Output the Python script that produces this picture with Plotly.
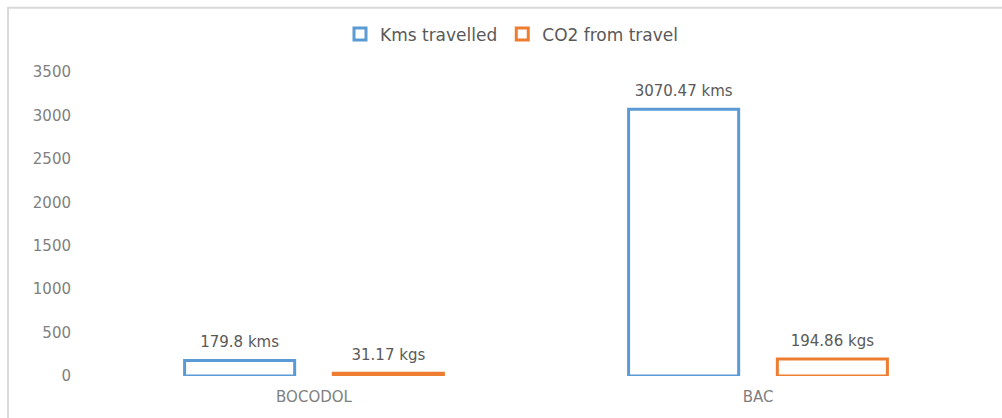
import plotly.graph_objects as go

categories = ["BOCODOL", "BAC"]
kms_values = [179.8, 3070.47]
co2_values = [31.17, 194.86]
kms_labels = ["179.8 kms", "3070.47 kms"]
co2_labels = ["31.17 kgs", "194.86 kgs"]
y_ticks = [0, 500, 1000, 1500, 2000, 2500, 3000, 3500]

BLUE = "#5B9BD5"
ORANGE = "#ED7D31"
TXT = "#595959"
TICK = "#7F7F7F"
FONT = "'DejaVu Sans', sans-serif"
BARGAP = 0.33

fig = go.Figure()
fig.add_trace(go.Bar(
    name="Kms travelled", x=categories, y=kms_values, offsetgroup="1",
    marker=dict(color="white", line=dict(color=BLUE, width=3)),
))
fig.add_trace(go.Bar(
    name="CO2 from travel", x=categories, y=co2_values, offsetgroup="2",
    marker=dict(color="white", line=dict(color=ORANGE, width=3)),
))
# data labels, positioned with the same grouping as the bars
for vals, labels, grp in [(kms_values, kms_labels, "1"), (co2_values, co2_labels, "2")]:
    fig.add_trace(go.Scatter(
        x=categories, y=vals, text=labels, mode="markers+text", offsetgroup=grp,
        textposition="top center", showlegend=False, hoverinfo="skip",
        marker=dict(size=14, color="rgba(0,0,0,0)"),
        textfont=dict(color=TXT, size=15, family=FONT), cliponaxis=False,
    ))

W, H = 1002, 418
ml, mr, mt, mb = 92, 22, 72, 39
pw = W - ml - mr
ph = H - mt - mb

fig.update_layout(
    width=W, height=H,
    margin=dict(l=ml, r=mr, t=mt, b=mb, pad=0),
    paper_bgcolor="white", plot_bgcolor="white",
    barmode="group", bargap=BARGAP, bargroupgap=0.26,
    scattermode="group", scattergap=BARGAP,
    font=dict(family=FONT, color=TXT),
    showlegend=True,
    legend=dict(orientation="h", x=(512 - ml) / pw, xanchor="center", y=1 + (mt - 34) / ph,
                yanchor="middle", font=dict(size=17, color=TXT, family=FONT),
                itemwidth=30, traceorder="normal"),
)
fig.update_yaxes(range=[0, 3500], tickvals=y_ticks, showgrid=False, zeroline=False,
                 showline=False, tickfont=dict(size=15, color=TICK, family=FONT),
                 ticklabelstandoff=20)
fig.update_xaxes(showgrid=False, zeroline=False, showline=False,
                 tickfont=dict(size=15, color=TICK, family=FONT), ticklabelstandoff=10)

# outer chart frame (left and top edges visible)
fig.add_shape(type="rect", xref="paper", yref="paper",
              x0=(8 - ml) / pw, x1=(W + 10 - ml) / pw,
              y0=-(mb + 10) / ph, y1=1 + (mt - 7) / ph,
              line=dict(color="#D9D9D9", width=2), fillcolor="rgba(0,0,0,0)", layer="below")

fig.write_html("out.html")
